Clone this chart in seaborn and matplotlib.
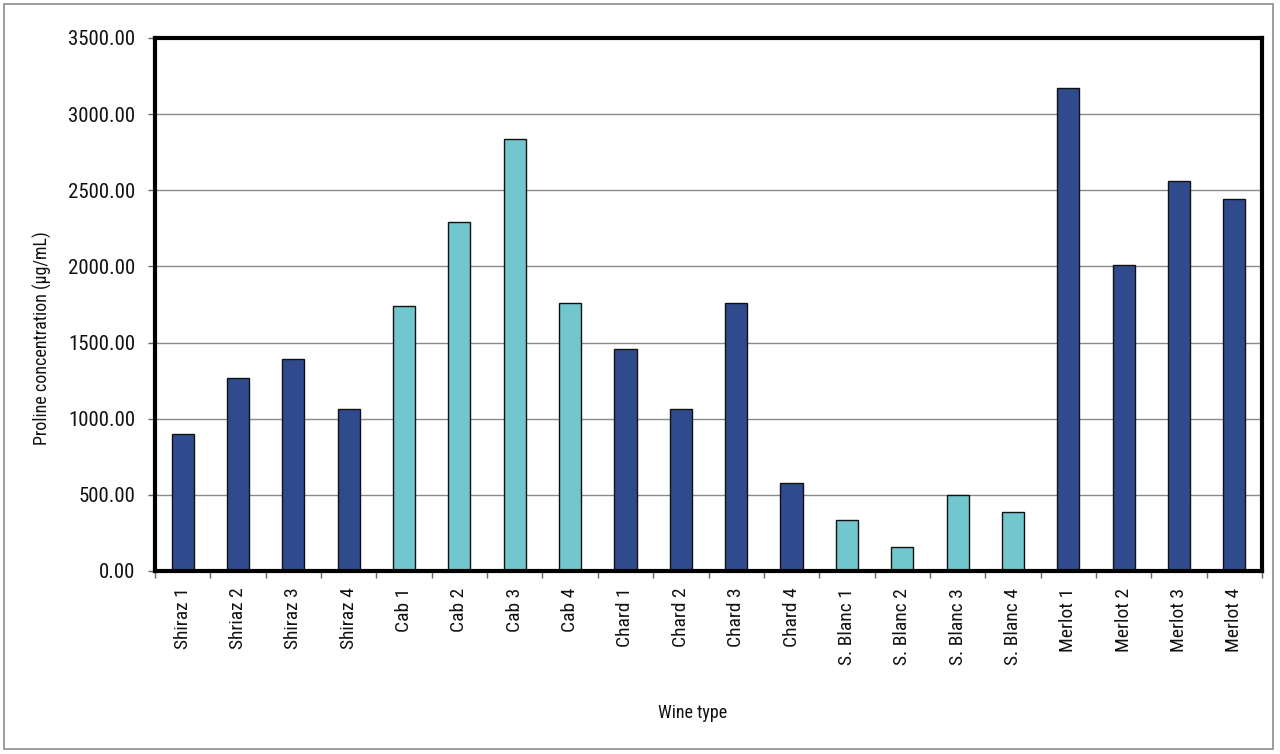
import matplotlib
matplotlib.use("Agg")
import matplotlib.pyplot as plt
from matplotlib.patches import Rectangle
from matplotlib.ticker import FixedLocator, FormatStrFormatter
import seaborn as sns
import pandas as pd
import numpy as np

# ---- data ----
wines = ["Shiraz 1", "Shriaz 2", "Shiraz 3", "Shiraz 4",
         "Cab 1", "Cab 2", "Cab 3", "Cab 4",
         "Chard 1", "Chard 2", "Chard 3", "Chard 4",
         "S. Blanc 1", "S. Blanc 2", "S. Blanc 3", "S. Blanc 4",
         "Merlot 1", "Merlot 2", "Merlot 3", "Merlot 4"]
groups = ["Shiraz"] * 4 + ["Cab"] * 4 + ["Chard"] * 4 + ["S. Blanc"] * 4 + ["Merlot"] * 4
proline = [900, 1270, 1390, 1065,
           1740, 2290, 2840, 1760,
           1455, 1063, 1760, 576,
           333, 160, 497, 390,
           3173, 2011, 2563, 2443]
y_ticks = [0, 500, 1000, 1500, 2000, 2500, 3000, 3500]

DARK = "#2F4B8E"
LIGHT = "#72C6CD"
palette = {"Shiraz": DARK, "Cab": LIGHT, "Chard": DARK, "S. Blanc": LIGHT, "Merlot": DARK}

df = pd.DataFrame({"wine": wines, "group": groups, "proline": proline})

sns.set_theme(style="white")
plt.rcParams["font.family"] = ["Liberation Sans Narrow", "Roboto Condensed", "DejaVu Sans"]

fig = plt.figure(figsize=(12.8, 7.54), dpi=100)
ax = fig.add_axes([155 / 1280, 1 - 571 / 754, (1262 - 155) / 1280, (571 - 38) / 754])

sns.barplot(data=df, x="wine", y="proline", hue="group", palette=palette,
            dodge=False, width=0.4, saturation=1, edgecolor="#111111", linewidth=1.0,
            legend=False, ax=ax, zorder=3)

ax.set_xlim(-0.5, len(wines) - 0.5)
ax.set_ylim(0, 3500)
ax.yaxis.set_major_locator(FixedLocator(y_ticks))
ax.yaxis.set_major_formatter(FormatStrFormatter("%.2f"))
ax.grid(axis="y", color="#8a8a8a", linewidth=1.0, zorder=0)
ax.grid(axis="x", visible=False)
ax.set_axisbelow(True)

for s in ax.spines.values():
    s.set_visible(True)
    s.set_color("black")
    s.set_linewidth(3.0)
    s.set_zorder(5)

ax.tick_params(axis="y", which="major", direction="out", length=5, width=1,
               color="#666666", pad=9, labelsize=15, labelcolor="#111111", left=True)
ax.set_xticks(np.arange(len(wines)))
ax.set_xticklabels(wines, rotation=90)
ax.tick_params(axis="x", which="major", length=0, pad=12, labelsize=14, labelcolor="#111111")
ax.set_xticks(np.arange(len(wines) + 1) - 0.5, minor=True)
ax.tick_params(axis="x", which="minor", direction="out", length=5, width=1,
               color="#666666", bottom=True)

ax.set_ylabel("Proline concentration (µg/mL)", fontsize=13, color="#111111")
ax.yaxis.set_label_coords(-0.093, 0.437)
ax.set_xlabel("Wine type", fontsize=13, color="#111111")
ax.xaxis.set_label_coords(0.486, -0.249)

# outer frame
fig.patches.append(Rectangle((4 / 1280, 1 - 749 / 754), 1269 / 1280, 745 / 754,
                             transform=fig.transFigure, fill=False,
                             edgecolor="#8c8c8c", linewidth=1.2))

fig.savefig("out.png", dpi=100, facecolor="white")
